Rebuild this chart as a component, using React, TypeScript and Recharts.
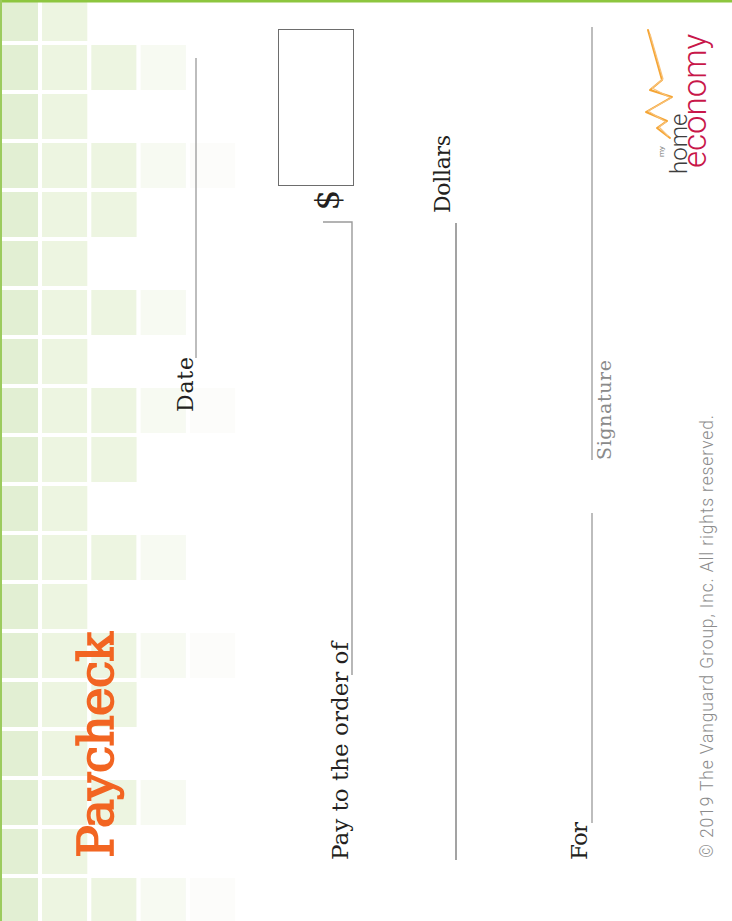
import React from 'react';
import { BarChart, Bar, XAxis, YAxis } from 'recharts';

const rows = ['r1','r2','r3','r4','r5','r6','r7','r8','r9','r10','r11','r12','r13','r14','r15','r16','r17','r18','r19'];
const col1 = [1,1,1,1,1,1,1,1,1,1,1,1,1,1,1,1,1,1,1];
const col2 = [1,1,1,1,1,1,1,1,1,1,1,1,1,1,1,1,1,1,1];
const col3 = [0,1,0,1,1,0,1,0,1,1,0,1,0,1,1,0,1,0,1];
const col4 = [0,1,0,1,0,0,1,0,1,0,0,1,0,1,0,0,1,0,1];
const col5 = [0,0,0,1,0,0,0,0,1,0,0,0,0,1,0,0,0,0,1];
const colKeys = ['c1','c2','c3','c4','c5'];
const colColors = ['#e2efd3','#edf5e1','#edf5e1','#f7faf2','#fcfcfa'];

const data = rows.map((r, i) => ({ row: r, c1: col1[i], c2: col2[i], c3: col3[i], c4: col4[i], c5: col5[i] }));

const serif = '"DejaVu Serif", serif';
const thin = 'Roboto, "Liberation Sans", Arial, sans-serif';

function VText(props: any) {
  const { x, y, children, ...rest } = props;
  return (
    <text x={x} y={y} transform={`rotate(-90 ${x} ${y})`} {...rest}>
      {children}
    </text>
  );
}

export default function App() {
  return (
    <div style={{ position: 'absolute', left: 0, top: 0, width: 732, height: 921, background: '#fff', overflow: 'hidden' }}>
      <BarChart
        width={732}
        height={921}
        data={data}
        layout="vertical"
        barCategoryGap={0}
        margin={{ top: -6, bottom: -4, left: -9.3, right: 1.8 }}
      >
        <XAxis type="number" domain={[0, 15]} hide />
        <YAxis type="category" dataKey="row" hide />
        {colKeys.map((k, i) => (
          <Bar key={k} dataKey={k} stackId="a" fill={colColors[i]} stroke="#ffffff" strokeWidth={4} isAnimationActive={false} />
        ))}
      </BarChart>
      <svg width={732} height={921} style={{ position: 'absolute', left: 0, top: 0, pointerEvents: 'none' }}>
        <rect x={0} y={0} width={732} height={2.5} fill="#8dc63f" />
        <rect x={0} y={0} width={2} height={921} fill="#9ccb5e" />

        <VText x={113} y={858} fontSize={49} fontFamily={serif} fill="#f26522" stroke="#f26522" strokeWidth={1.6} textLength={226}>Paycheck</VText>

        <line x1={196} y1={58} x2={196} y2={358} stroke="#9a9a9a" strokeWidth={1.3} />
        <VText x={193} y={412} fontSize={22} fontFamily={serif} fill="#231f20" textLength={55}>Date</VText>

        <rect x={278.5} y={29.5} width={75} height={156} fill="none" stroke="#6d6d6d" strokeWidth={1} />
        <VText x={339} y={200} fontSize={33} fontFamily={serif} fill="#231f20" textAnchor="middle">$</VText>
        <polyline points="323,222 352,222 352,675" fill="none" stroke="#9a9a9a" strokeWidth={1.4} />

        <VText x={450} y={213} fontSize={22} fontFamily={serif} fill="#231f20" textLength={78}>Dollars</VText>
        <line x1={456} y1={223} x2={456} y2={860} stroke="#666" strokeWidth={1.2} />

        <VText x={348} y={860} fontSize={23} fontFamily={serif} fill="#231f20" textLength={218}>Pay to the order of</VText>

        <VText x={587} y={860} fontSize={23} fontFamily={serif} fill="#231f20" textLength={38}>For</VText>
        <line x1={592} y1={513} x2={592} y2={823} stroke="#9a9a9a" strokeWidth={1.3} />
        <line x1={592} y1={27} x2={592} y2={460} stroke="#9a9a9a" strokeWidth={1.3} />
        <VText x={611} y={460} fontSize={19} fontFamily={serif} fill="#8a8a8a" textLength={100}>Signature</VText>

        <VText x={713} y={858} fontSize={17.5} fontFamily={thin} fontWeight={300} fill="#8c8c8c" textLength={443}>© 2019 The Vanguard Group, Inc. All rights reserved.</VText>

        <polyline points="648,30 662,80 650,90 672,97 646,112 667,121 657,128 670,138" fill="none" stroke="#f5a534" strokeWidth={2} strokeLinejoin="round" strokeLinecap="round" />
        <polyline points="650,34 663,79 652,88 671,98 648,111 666,122 659,127 668,136" fill="none" stroke="#f8c27a" strokeWidth={1.2} strokeLinejoin="round" strokeLinecap="round" />
        <VText x={706} y={168} fontSize={33} fontFamily={thin} fontWeight={300} fill="#c8174a">economy</VText>
        <VText x={687} y={174} fontSize={24} fontFamily={thin} fontWeight={300} fill="#3d3d3d">home</VText>
        <VText x={664} y={157} fontSize={8} fontFamily={thin} fill="#777">my</VText>
      </svg>
    </div>
  );
}
